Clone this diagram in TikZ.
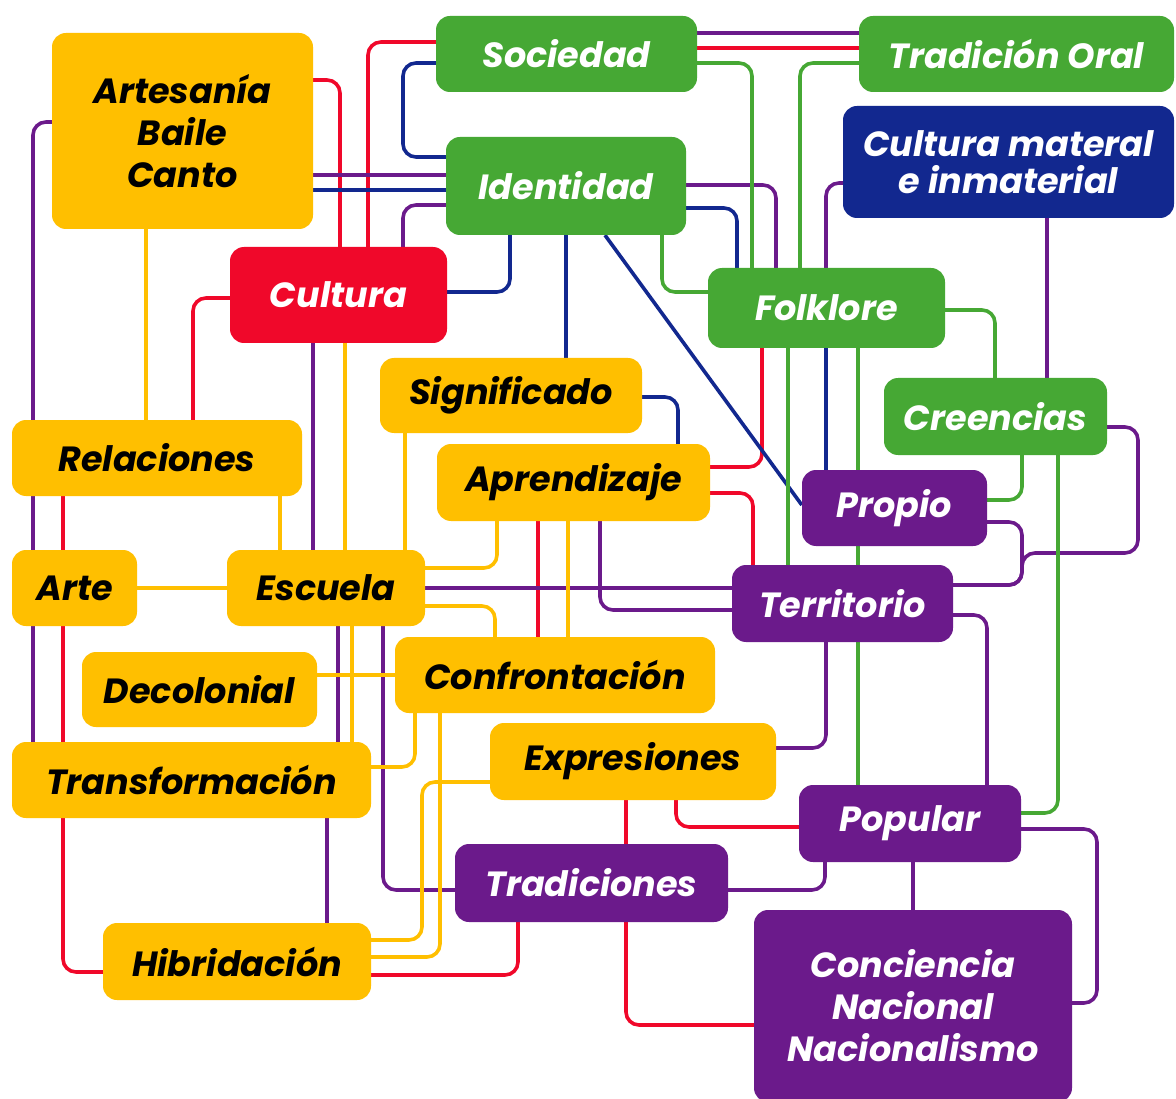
\documentclass[tikz,border=0pt]{standalone}
\usepackage{fontspec}
\setmainfont{Poppins}
\usetikzlibrary{calc}
\definecolor{cy}{HTML}{FFBF00}
\definecolor{cg}{HTML}{46A834}
\definecolor{cr}{HTML}{F0082A}
\definecolor{cp}{HTML}{6B1A8B}
\definecolor{cn}{HTML}{12288F}
\pgfdeclarelayer{back}
\pgfdeclarelayer{bg}
\pgfsetlayers{back,bg,main}
\tikzset{
  box/.style={rounded corners=14pt, inner sep=0pt, align=center,
    font=\bfseries\itshape\fontsize{35}{42}\selectfont},
  yb/.style={box, fill=cy, text=black},
  gb/.style={box, fill=cg, text=white},
  rb/.style={box, fill=cr, text=white},
  pb/.style={box, fill=cp, text=white},
  nb/.style={box, fill=cn, text=white},
  ln/.style={line width=3.6pt, rounded corners=13pt},
  cR/.style={ln, draw=cr},
  cP/.style={ln, draw=cp},
  cN/.style={ln, draw=cn},
  cG/.style={ln, draw=cg},
  cY/.style={ln, draw=cy},
}
\begin{document}
\begin{tikzpicture}[x=1pt,y=-1pt]
\begin{pgfonlayer}{back}
\fill[white] (0,0) rectangle (1176,1099);
\end{pgfonlayer}
\useasboundingbox (0,0) rectangle (1176,1099);
% nodes
\node[yb, minimum width=261pt, minimum height=196pt] (art) at (182.5,131) {Artesanía\\Baile\\Canto};
\node[gb, minimum width=261pt, minimum height=76pt] (soc) at (566.5,54) {Sociedad};
\node[gb, minimum width=315pt, minimum height=76pt] (tor) at (1016.5,54) {Tradición Oral};
\node[gb, minimum width=240pt, minimum height=98pt] (ide) at (566,186) {Identidad};
\node[nb, minimum width=331pt, minimum height=112pt, font=\bfseries\itshape\fontsize{35}{37}\selectfont] (cmi) at (1008.5,162) {Cultura materal\\e inmaterial};
\node[rb, minimum width=217pt, minimum height=96pt] (cul) at (338.5,295) {Cultura};
\node[gb, minimum width=237pt, minimum height=80pt] (fol) at (826.5,308) {Folklore};
\node[gb, minimum width=223pt, minimum height=77pt] (cre) at (995.5,416.5) {Creencias};
\node[yb, minimum width=262pt, minimum height=75pt] (sig) at (511,395.5) {Significado};
\node[yb, minimum width=290pt, minimum height=76pt] (rel) at (157,458) {Relaciones};
\node[yb, minimum width=273pt, minimum height=77pt] (apr) at (573.5,482.5) {Aprendizaje};
\node[pb, minimum width=185pt, minimum height=76pt] (pro) at (894.5,508) {Propio};
\node[yb, minimum width=125pt, minimum height=76pt] (arte) at (74.5,588) {Arte};
\node[yb, minimum width=198pt, minimum height=76pt] (esc) at (326,588) {Escuela};
\node[pb, minimum width=221pt, minimum height=77pt] (ter) at (842.5,603.5) {Territorio};
\node[yb, minimum width=235pt, minimum height=75pt] (dec) at (199.5,689.5) {Decolonial};
\node[yb, minimum width=320pt, minimum height=76pt] (con) at (555,675) {Confrontación};
\node[yb, minimum width=359pt, minimum height=76pt] (tra) at (191.5,780) {Transformación};
\node[yb, minimum width=286pt, minimum height=77pt] (exp) at (633,761.5) {Expresiones};
\node[pb, minimum width=222pt, minimum height=77pt] (pop) at (910,823.5) {Popular};
\node[pb, minimum width=273pt, minimum height=78pt] (trad) at (591.5,883) {Tradiciones};
\node[yb, minimum width=268pt, minimum height=77pt] (hib) at (237,961.5) {Hibridación};
\node[pb, minimum width=318pt, minimum height=192pt] (cnn) at (913,1006) {Conciencia\\Nacional\\Nacionalismo};
\begin{pgfonlayer}{bg}
% red
\draw[cR] (art.east |- 0,80) -| (340,0 |- cul.north);
\draw[cR] (soc.west |- 0,42) -| (368,0 |- cul.north);
\draw[cR] (cul.west |- 0,298) -| (193,0 |- rel.north);
\draw[cR] (63,0 |- rel.south) |- (hib.west |- 0,972);
\draw[cR] (hib.east |- 0,975) -| (518,0 |- trad.south);
\draw[cR] (apr.east |- 0,467) -| (762,0 |- fol.south);
\draw[cR] (apr.east |- 0,493) -| (753,0 |- ter.north);
\draw[cR] (538,0 |- apr.south) -- (538,0 |- con.north);
\draw[cR] (626,0 |- exp.south) -- (626,0 |- trad.north);
\draw[cR] (676,0 |- exp.south) |- (pop.west |- 0,827);
\draw[cR] (626,0 |- trad.south) |- (cnn.west |- 0,1025);
\draw[cR] (soc.east |- 0,48) -- (tor.west |- 0,48);
% purple
\draw[cP] (art.west |- 0,122) -| (33,0 |- tra.north);
\draw[cP] (art.east |- 0,175) -- (ide.west |- 0,175);
\draw[cP] (ide.west |- 0,205) -| (403,0 |- cul.north);
\draw[cP] (313,0 |- cul.south) -- (313,0 |- esc.north);
\draw[cP] (338,0 |- esc.south) -- (338,0 |- tra.north);
\draw[cP] (327,0 |- tra.south) -- (327,0 |- hib.north);
\draw[cP] (383,0 |- esc.south) |- (trad.west |- 0,890);
\draw[cP] (esc.east |- 0,588) -- (ter.west |- 0,588);
\draw[cP] (600,0 |- apr.south) |- (ter.west |- 0,610);
\draw[cP] (ide.east |- 0,185) -| (776,0 |- fol.north);
\draw[cP] (cmi.west |- 0,183) -| (826,0 |- fol.north);
\draw[cP] (1047,0 |- cmi.south) -- (1047,0 |- cre.north);
\draw[cP] (soc.east |- 0,33) -- (tor.west |- 0,33);
\draw[cP] (cre.east |- 0,427) -- (1138,427) -- (1138,553) -- (1022,553) |- (ter.east |- 0,585);
\draw[cP] (pro.east |- 0,522) -- (1022,522) |- (ter.east |- 0,585);
\draw[cP] (ter.east |- 0,615) -| (987,0 |- pop.north);
\draw[cP] (826,0 |- ter.south) |- (exp.east |- 0,748);
\draw[cP] (825,0 |- pop.south) |- (trad.east |- 0,890);
\draw[cP] (913,0 |- pop.south) -- (913,0 |- cnn.north);
\draw[cP] (pop.east |- 0,829) -- (1097,829) |- (cnn.east |- 0,1003);
% navy
\draw[cN] (soc.west |- 0,63) -- (403,63) |- (ide.west |- 0,157);
\draw[cN] (art.east |- 0,190) -- (ide.west |- 0,190);
\draw[cN] (510,0 |- ide.south) |- (cul.east |- 0,292);
\draw[cN] (566,0 |- ide.south) -- (566,0 |- sig.north);
\draw[cN] (605,0 |- ide.south) -- (pro.west |- 0,505);
\draw[cN] (sig.east |- 0,397) -| (678,0 |- apr.north);
\draw[cN] (ide.east |- 0,208) -| (737,0 |- fol.north);
\draw[cN] (826,0 |- fol.south) -- (826,0 |- pro.north);
% green
\draw[cG] (soc.east |- 0,63) -| (752,0 |- fol.north);
\draw[cG] (tor.west |- 0,63) -| (800,0 |- fol.north);
\draw[cG] (662,0 |- ide.south) |- (fol.west |- 0,292);
\draw[cG] (fol.east |- 0,310) -| (995,0 |- cre.north);
\draw[cG] (788,0 |- fol.south) -- (788,0 |- ter.north);
\draw[cG] (858,0 |- fol.south) -- (858,0 |- pop.north);
\draw[cG] (1022,0 |- cre.south) |- (pro.east |- 0,500);
\draw[cG] (1058,0 |- cre.south) |- (pop.east |- 0,813);
% yellow
\draw[cY] (146,0 |- art.south) -- (146,0 |- rel.north);
\draw[cY] (345,0 |- cul.south) -- (345,0 |- esc.north);
\draw[cY] (280,0 |- rel.south) -- (280,0 |- esc.north);
\draw[cY] (arte.east) -- (esc.west);
\draw[cY] (405,0 |- sig.south) -- (405,0 |- esc.north);
\draw[cY] (497,0 |- apr.south) |- (esc.east |- 0,568);
\draw[cY] (esc.east |- 0,606) -| (495,0 |- con.north);
\draw[cY] (352,0 |- esc.south) -- (352,0 |- tra.north);
\draw[cY] (dec.east |- 0,675) -- (con.west |- 0,675);
\draw[cY] (415,0 |- con.south) |- (tra.east |- 0,767);
\draw[cY] (440,0 |- con.south) |- (hib.east |- 0,957);
\draw[cY] (exp.west |- 0,782) -| (422,870) |- (hib.east |- 0,940);
\draw[cY] (568,0 |- apr.south) -- (568,0 |- con.north);
\end{pgfonlayer}
\end{tikzpicture}
\end{document}
